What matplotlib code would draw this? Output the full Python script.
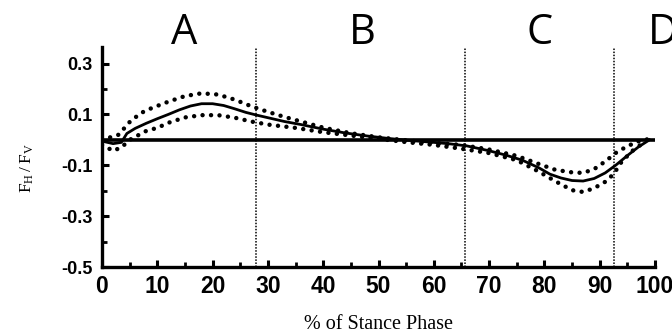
import matplotlib
matplotlib.use("Agg")
import matplotlib.pyplot as plt
from matplotlib.ticker import MultipleLocator

# ---- data ----
x_mean = [0, 2, 3.5, 4.5, 6, 8, 10, 12, 14, 16, 18, 20, 22, 24, 26, 28, 30, 33, 36, 40,
          44, 48, 52, 56, 60, 63, 66, 70, 73, 76, 79, 81, 83, 85, 87, 89, 91, 93, 95, 97, 99]
mean = [-0.005, -0.015, -0.01, 0.025, 0.045, 0.065, 0.083, 0.1, 0.118, 0.133, 0.142, 0.142,
        0.135, 0.122, 0.108, 0.097, 0.087, 0.072, 0.06, 0.042, 0.027, 0.015, 0.005, -0.003,
        -0.01, -0.016, -0.024, -0.043, -0.06, -0.08, -0.11, -0.135, -0.15, -0.16, -0.162,
        -0.152, -0.13, -0.098, -0.062, -0.028, 0.0]

x_upper = [0, 3, 5, 7, 9, 12, 15, 18, 21, 24, 27, 30, 33, 36, 40, 45, 50, 55, 60, 65, 70,
           75, 79, 82, 85, 87, 89, 91, 93, 95, 97, 99]
upper = [0.0, 0.02, 0.07, 0.105, 0.125, 0.15, 0.172, 0.183, 0.178, 0.158, 0.132, 0.11,
         0.09, 0.072, 0.048, 0.026, 0.01, -0.002, -0.012, -0.02, -0.038, -0.063, -0.095,
         -0.118, -0.128, -0.13, -0.115, -0.085, -0.05, -0.025, -0.006, 0.004]

x_lower = [0, 2, 3.5, 5, 8, 10, 12, 15, 18, 21, 24, 27, 30, 35, 40, 45, 50, 55, 60, 65, 70,
           75, 79, 82, 85, 87, 89, 91, 92.5, 94, 96, 98]
lower = [-0.02, -0.043, -0.03, 0.0, 0.035, 0.047, 0.067, 0.088, 0.097, 0.097, 0.087,
         0.072, 0.06, 0.047, 0.03, 0.017, 0.004, -0.009, -0.02, -0.035, -0.052, -0.08,
         -0.125, -0.163, -0.198, -0.205, -0.19, -0.165, -0.135, -0.085, -0.042, -0.01]

phase_bounds = [27.8, 65.6, 92.6]
phase_labels = ["A", "B", "C", "D"]
phase_label_x = [14.9, 47.0, 79.2, 101.5]

x_ticks = list(range(0, 101, 10))
y_ticks = [0.3, 0.1, -0.1, -0.3, -0.5]
y_ticklabels = ["0.3", "0.1", "-0.1", "-0.3", "-0.5"]

# ---- figure ----
fig = plt.figure(figsize=(6.72, 3.33), dpi=100)
ax = fig.add_axes([102 / 672, 1 - 267 / 333, (655 - 102) / 672, (267 - 47) / 333])

ax.set_xlim(0, 100)
ax.set_ylim(-0.5, 0.365)

ax.plot([0, 100], [0, 0], color="black", lw=2.6, solid_capstyle="butt", zorder=3)
ax.plot(x_mean, mean, color="black", lw=2.0, zorder=4)
dot = dict(color="black", lw=3.2, linestyle=(0, (0.01, 1.9)), dash_capstyle="round", zorder=4)
ax.plot(x_upper, upper, **dot)
ax.plot(x_lower, lower, **dot)

for b in phase_bounds:
    ax.axvline(b, color="black", lw=1.1, linestyle=(0, (1.0, 1.0)), zorder=2)

for s in ["top", "right"]:
    ax.spines[s].set_visible(False)
for s in ["left", "bottom"]:
    ax.spines[s].set_linewidth(2.4)

ax.set_xticks(x_ticks)
ax.set_yticks(y_ticks)
ax.set_yticklabels(y_ticklabels)
ax.xaxis.set_minor_locator(MultipleLocator(5))
ax.yaxis.set_minor_locator(MultipleLocator(0.1))
ax.tick_params(which="major", direction="in", length=5, width=2.2)
ax.tick_params(which="minor", direction="in", length=3.5, width=2.0)
ax.tick_params(axis="x", pad=6, labelsize=16.5)
ax.tick_params(axis="y", pad=7, labelsize=13)
for lab in ax.get_xticklabels() + ax.get_yticklabels():
    lab.set_fontfamily("Liberation Sans")
    lab.set_fontweight("bold")

ax.set_xlabel("% of Stance Phase", family="Liberation Serif", fontsize=14.5, labelpad=12)
fig.text(27 / 672, 1 - 168 / 333, r"$\mathregular{F_H\,/\,F_V}$", rotation=90,
         ha="center", va="center", family="Liberation Serif", fontsize=12.5)

for lx, lt in zip(phase_label_x, phase_labels):
    ax.text(lx, 1.014, lt, transform=ax.get_xaxis_transform(), ha="center", va="baseline",
            family="Open Sans", fontsize=30, clip_on=False)

fig.savefig("out.png", dpi=100, facecolor="white")
